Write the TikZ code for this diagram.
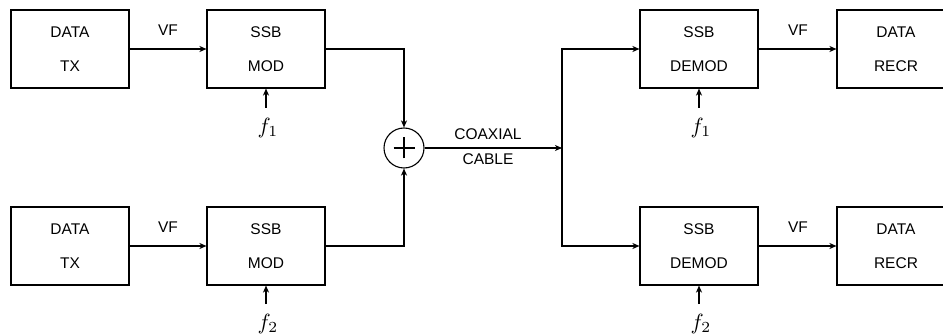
\documentclass[tikz,border=0pt]{standalone}
\usepackage[no-math]{fontspec}
\setmainfont{Liberation Sans}
\usetikzlibrary{arrows.meta}
\begin{document}
\begin{tikzpicture}[x=1pt,y=-1pt,
  blk/.style={draw,line width=1.1pt,minimum width=118pt,minimum height=78pt,inner sep=0pt,
    align=center,font=\fontsize{15.5}{34}\selectfont},
  lbl/.style={font=\fontsize{15.5}{18}\selectfont,inner sep=0pt},
  flbl/.style={font=\normalsize,scale=2.2,inner sep=0pt},
  conn/.style={line width=1.1pt,-{Stealth[length=7pt,width=6pt,inset=2pt]}},
  wire/.style={line width=1.1pt}]
\useasboundingbox (0,0) rectangle (943,334);
% top row
\node[blk] (tx1) at (70,49) {DATA\\TX};
\node[blk] (mod1) at (266,49) {SSB\\MOD};
\node[blk] (dem1) at (699,49) {SSB\\DEMOD};
\node[blk] (rx1) at (896,49) {DATA\\RECR};
% bottom row
\node[blk] (tx2) at (70,246) {DATA\\TX};
\node[blk] (mod2) at (266,246) {SSB\\MOD};
\node[blk] (dem2) at (699,246) {SSB\\DEMOD};
\node[blk] (rx2) at (896,246) {DATA\\RECR};
% summer
\node[draw,circle,line width=1.1pt,minimum size=40pt,inner sep=0pt] (sum) at (404,148) {};
\draw[wire] ([xshift=-10.5pt]sum.center) -- ([xshift=10.5pt]sum.center);
\draw[wire] ([yshift=-10.5pt]sum.center) -- ([yshift=10.5pt]sum.center);
\coordinate (j) at (562,148);
% labels
\node[lbl] (vf1) at (168,30) {VF};
\node[lbl] (vf2) at (168,227) {VF};
\node[lbl] (vf3) at (798,30) {VF};
\node[lbl] (vf4) at (798,227) {VF};
\node[lbl] (coax) at (488,134.5) {COAXIAL};
\node[lbl] (cable) at (488,159) {CABLE};
\node[flbl] (f1a) at (268,128) {$f_1$};
\node[flbl] (f2a) at (268,324) {$f_2$};
\node[flbl] (f1b) at (701,128) {$f_1$};
\node[flbl] (f2b) at (701,324) {$f_2$};
% connectors
\draw[conn] (tx1.east) -- (mod1.west);
\draw[conn] (tx2.east) -- (mod2.west);
\draw[conn] (dem1.east) -- (rx1.west);
\draw[conn] (dem2.east) -- (rx2.west);
\draw[conn] (mod1.east) -| (sum.north);
\draw[conn] (mod2.east) -| (sum.south);
\draw[conn] (sum.east) -- (j);
\draw[conn] (j) |- (dem1.west);
\draw[conn] (j) |- (dem2.west);
\draw[conn] (266,108) -- (mod1.south);
\draw[conn] (266,304) -- (mod2.south);
\draw[conn] (699,108) -- (dem1.south);
\draw[conn] (699,304) -- (dem2.south);
\end{tikzpicture}
\end{document}
